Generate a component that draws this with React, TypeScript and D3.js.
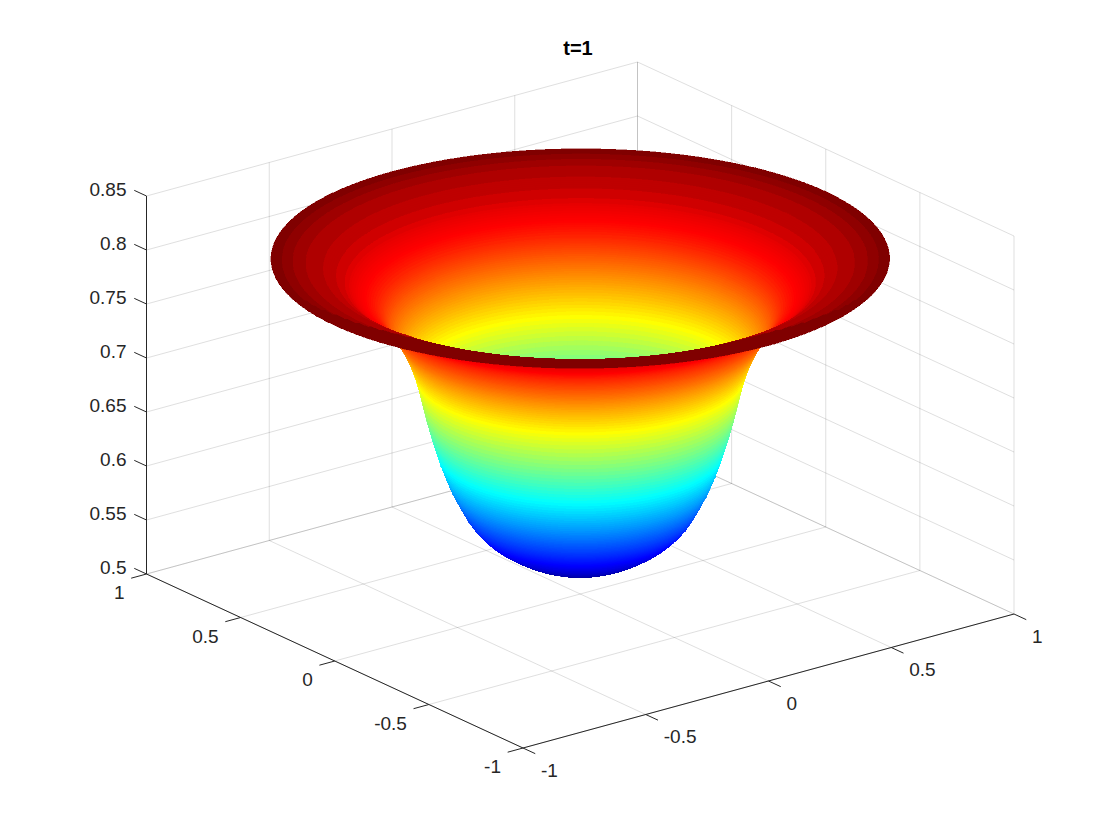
import React, { useMemo } from "react";
import * as d3 from "d3";

const TITLE = "t=1";
const xTicks = [-1, -0.5, 0, 0.5, 1];
const yTicks = [-1, -0.5, 0, 0.5, 1];
const zTicks = [0.5, 0.55, 0.6, 0.65, 0.7, 0.75, 0.8, 0.85];
// radial profile z(r), one reading every 0.025 of radius from r=0 to r=1
const profileHeights = [
  0.523, 0.5232, 0.5238, 0.5249, 0.5263, 0.5282, 0.5304, 0.5331, 0.5362, 0.5397,
  0.5437, 0.548, 0.553, 0.5595, 0.5668, 0.5775, 0.59, 0.604, 0.6213, 0.6425,
  0.666, 0.697, 0.717, 0.732, 0.743, 0.755, 0.7645, 0.7705, 0.775, 0.7805,
  0.786, 0.792, 0.797, 0.801, 0.8037, 0.8055, 0.8068, 0.8078, 0.8088, 0.8097, 0.8106,
];
// height -> colour position readings near the rim, where the colormap steps show
const colorHeights = [0.523, 0.7746, 0.802, 0.806, 0.808, 0.8093, 0.8106];
const colorLevels = [0, 0.875, 0.9375, 0.953, 0.969, 0.984, 1];

const W = 1120;
const H = 840;
const SEGMENTS = 120;
const RING_STEPS: [number, number, number][] = [
  [0, 0.3, 24],
  [0.3, 0.65, 100],
  [0.65, 1, 50],
];
const FONT = "'Liberation Sans', Arial, Helvetica, sans-serif";
const AXIS = "#262626";

const sx = d3.scaleLinear().domain([-1, 1]);
const xToX = sx.copy().range([-245.5, 245.5]);
const xToY = sx.copy().range([67, -67]);
const yToX = sx.copy().range([188.25, -188.25]);
const yToY = sx.copy().range([87, -87]);
const zToY = d3.scaleLinear().domain([0.5, 0.85]).range([594, 216]);

type P = [number, number];
const project = (x: number, y: number, z: number): P => [
  580.25 + xToX(x) + yToX(y),
  zToY(z) + xToY(x) + yToY(y),
];

const zAt = d3.interpolateBasis(profileHeights);
const zNorm = d3.scaleLinear().domain(colorHeights).range(colorLevels).clamp(true);

const jet = (t: number): string => {
  const ch = (c: number) => Math.round(255 * Math.max(0, Math.min(1, c)));
  const r = Math.min(4 * t - 1.5, -4 * t + 4.5);
  const g = Math.min(4 * t - 0.5, -4 * t + 3.5);
  const b = Math.min(4 * t + 0.5, -4 * t + 2.5);
  return `rgb(${ch(r)},${ch(g)},${ch(b)})`;
};
// the darkest reds fall into visible colormap steps; the rest looks continuous
const colorOf = (z: number, dark: boolean): string => {
  if (dark) return jet(1);
  const t = zNorm(z);
  return jet(t > 0.9 ? Math.ceil(t * 64) / 64 : t);
};

const lineGen = d3.line<P>();

function buildQuads() {
  const radii: number[] = [];
  RING_STEPS.forEach(([a, b, n]) => {
    for (let i = 0; i < n; i++) radii.push(a + ((b - a) * i) / n);
  });
  radii.push(1);
  const quads: { d: string; fill: string; depth: number }[] = [];
  for (let i = 0; i + 1 < radii.length; i++) {
    const r0 = radii[i];
    const r1 = radii[i + 1];
    const z0 = zAt(r0);
    const z1 = zAt(r1);
    const zc = (z0 + z1) / 2;
    const rc = (r0 + r1) / 2;
    for (let j = 0; j < SEGMENTS; j++) {
      const a0 = (j / SEGMENTS) * 2 * Math.PI;
      const a1 = ((j + 1) / SEGMENTS) * 2 * Math.PI;
      const ac = (a0 + a1) / 2;
      const pts: P[] = [
        project(r0 * Math.cos(a0), r0 * Math.sin(a0), z0),
        project(r1 * Math.cos(a0), r1 * Math.sin(a0), z1),
        project(r1 * Math.cos(a1), r1 * Math.sin(a1), z1),
        project(r0 * Math.cos(a1), r0 * Math.sin(a1), z0),
      ];
      const cx = Math.cos(ac);
      const cy = Math.sin(ac);
      const depth = -0.57 * rc * cx - 0.74 * rc * cy + 1.34 * zc;
      const front = (-67 * cx - 87 * cy) / 109.8; // 1 at the nearest rim point
      const ramp = Math.min(1, Math.max(0, front) / 0.85);
      const lipStart = 1 - 0.18 * ramp * ramp;
      const dark = front > 0 && rc > lipStart;
      const fill = colorOf(zc, dark);
      quads.push({ d: lineGen(pts) + "Z", fill, depth });
    }
  }
  return quads.sort((a, b) => a.depth - b.depth);
}

const seg = (a: P, b: P) => `M${a[0]},${a[1]}L${b[0]},${b[1]}`;

export default function App() {
  const quads = useMemo(buildQuads, []);
  const grid: string[] = [];
  const zLo = zTicks[0];
  const zHi = zTicks[zTicks.length - 1];
  zTicks.forEach((z) => {
    grid.push(seg(project(-1, 1, z), project(1, 1, z)));
    grid.push(seg(project(1, 1, z), project(1, -1, z)));
  });
  xTicks.forEach((x) => {
    grid.push(seg(project(x, 1, zLo), project(x, 1, zHi)));
    grid.push(seg(project(x, -1, zLo), project(x, 1, zLo)));
  });
  yTicks.forEach((y) => {
    grid.push(seg(project(1, y, zLo), project(1, y, zHi)));
    grid.push(seg(project(-1, y, zLo), project(1, y, zLo)));
  });

  const axes = [
    seg(project(-1, 1, zLo), project(-1, 1, zHi)),
    seg(project(-1, -1, zLo), project(1, -1, zLo)),
    seg(project(-1, -1, zLo), project(-1, 1, zLo)),
    ...zTicks.map((z) => seg(project(-1, 1, z), project(-1, 1.065, z))),
    ...xTicks.map((x) => seg(project(x, -1, zLo), project(x, -1.065, zLo))),
    ...yTicks.map((y) => seg(project(-1, y, zLo), project(-1.0625, y, zLo))),
  ];

  const textProps = { fontFamily: FONT, fontSize: 19, fill: AXIS };

  return (
    <svg
      width={W}
      height={H}
      viewBox={`0 0 ${W} ${H}`}
      style={{ position: "absolute", left: 0, top: 0, background: "#fff" }}
    >
      <g fill="none" stroke="#262626" strokeOpacity={0.15} strokeWidth={1}>
        {grid.map((d, i) => (
          <path key={i} d={d} />
        ))}
      </g>
      <g shapeRendering="crispEdges" strokeWidth={0.4}>
        {quads.map((q, i) => (
          <path key={i} d={q.d} fill={q.fill} stroke={q.fill} />
        ))}
      </g>
      <g fill="none" stroke={AXIS} strokeWidth={1}>
        {axes.map((d, i) => (
          <path key={i} d={d} />
        ))}
      </g>
      {zTicks.map((z) => {
        const [px, py] = project(-1, 1, z);
        return (
          <text key={z} x={px - 20} y={py - 0.5} textAnchor="end" {...textProps}>
            {String(z)}
          </text>
        );
      })}
      {xTicks.map((x) => {
        const [px, py] = project(x, -1, zLo);
        return (
          <text key={x} x={px + 18} y={py + 28.5} textAnchor="start" {...textProps}>
            {String(x)}
          </text>
        );
      })}
      {yTicks.map((y) => {
        const [px, py] = project(-1, y, zLo);
        return (
          <text key={y} x={px - 22} y={py + 25} textAnchor="end" {...textProps}>
            {String(y)}
          </text>
        );
      })}
      <text
        x={578}
        y={55}
        textAnchor="middle"
        fontFamily={FONT}
        fontSize={20}
        fontWeight="bold"
        fill="#000"
      >
        {TITLE}
      </text>
    </svg>
  );
}
